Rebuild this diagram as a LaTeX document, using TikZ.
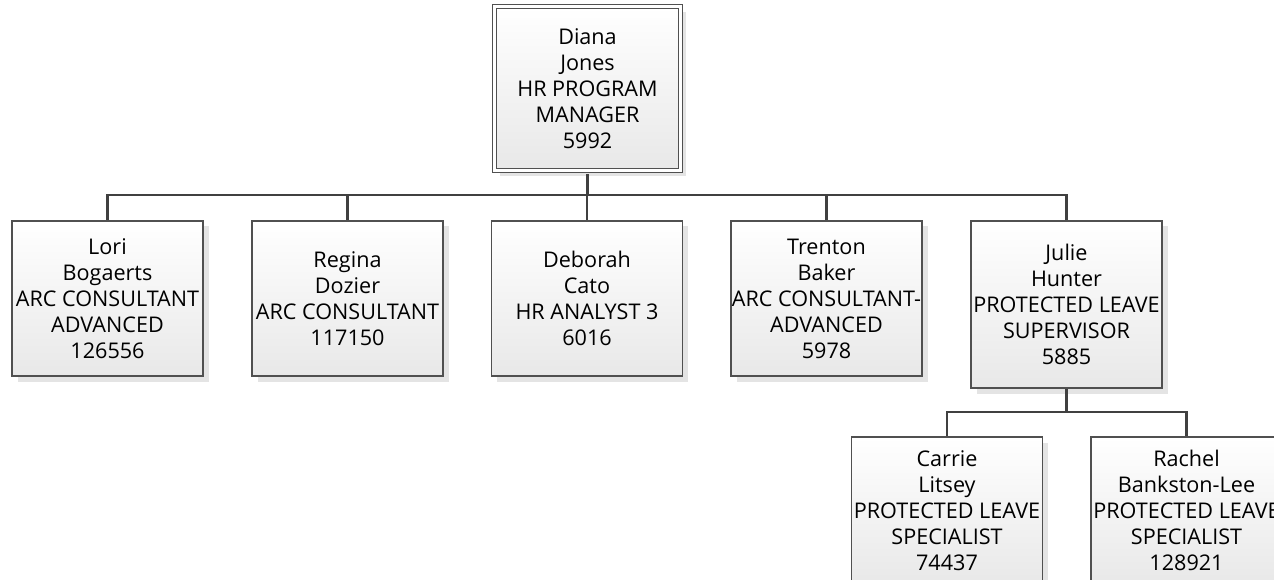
\documentclass[tikz,border=0pt]{standalone}
\usepackage{fontspec}
\setmainfont{Open Sans}
\usetikzlibrary{shadows}
\definecolor{boxline}{HTML}{505050}
\definecolor{connline}{HTML}{404040}
\definecolor{boxbottom}{HTML}{E8E8E8}
\definecolor{shadowgray}{HTML}{E4E4E4}
\begin{document}
\begin{tikzpicture}[x=1pt,y=-1pt,
  card/.style={draw=boxline, line width=1.3pt, top color=white, bottom color=boxbottom,
    minimum width=191pt, minimum height=155pt, inner sep=0pt, align=center,
    font=\fontsize{21.6}{26}\selectfont,
    drop shadow={shadow xshift=5.5pt, shadow yshift=-5.5pt, fill=shadowgray, opacity=1}},
  tallcard/.style={card, minimum height=167pt},
  lowcard/.style={card, minimum height=147pt},
  headcard/.style={card, double=white, double distance=3.4pt, line width=1.25pt,
    minimum width=186pt, minimum height=164pt},
  conn/.style={draw=connline, line width=2.8pt}]
\path[use as bounding box, clip] (0,0) rectangle (1274,580);
\fill[white] (0,0) rectangle (1274,580);
% nodes
\node[headcard] (diana) at (587.5,88.5) {Diana\\Jones\\HR PROGRAM\\MANAGER\\5992};
\node[card] (lori) at (107.5,298.5) {Lori\\Bogaerts\\ARC CONSULTANT\\ADVANCED\\126556};
\node[card] (regina) at (347.5,298.5) {Regina\\Dozier\\ARC CONSULTANT\\117150};
\node[card] (deborah) at (587,298.5) {Deborah\\Cato\\HR ANALYST 3\\6016};
\node[card] (trenton) at (826.5,298.5) {Trenton\\Baker\\ARC CONSULTANT-\\ADVANCED\\5978};
\node[tallcard] (julie) at (1066.5,304.5) {Julie\\Hunter\\PROTECTED LEAVE\\SUPERVISOR\\5885};
\node[lowcard] (carrie) at (947,510.5) {Carrie\\Litsey\\PROTECTED LEAVE\\SPECIALIST\\74437};
\node[lowcard] (rachel) at (1186.5,510.5) {Rachel\\Bankston-Lee\\PROTECTED LEAVE\\SPECIALIST\\128921};
\coordinate (bus1) at (587.5,195);
\coordinate (bus2) at (1066.5,412);
% connectors
\draw[conn, shorten <=2.9pt] (diana.south) -- (bus1);
\foreach \c in {lori,regina,deborah,trenton,julie}
  \draw[conn] (bus1) -| (\c.north);
\draw[conn] (julie.south) -- (bus2);
\foreach \c in {carrie,rachel}
  \draw[conn] (bus2) -| (\c.north);
\end{tikzpicture}
\end{document}
